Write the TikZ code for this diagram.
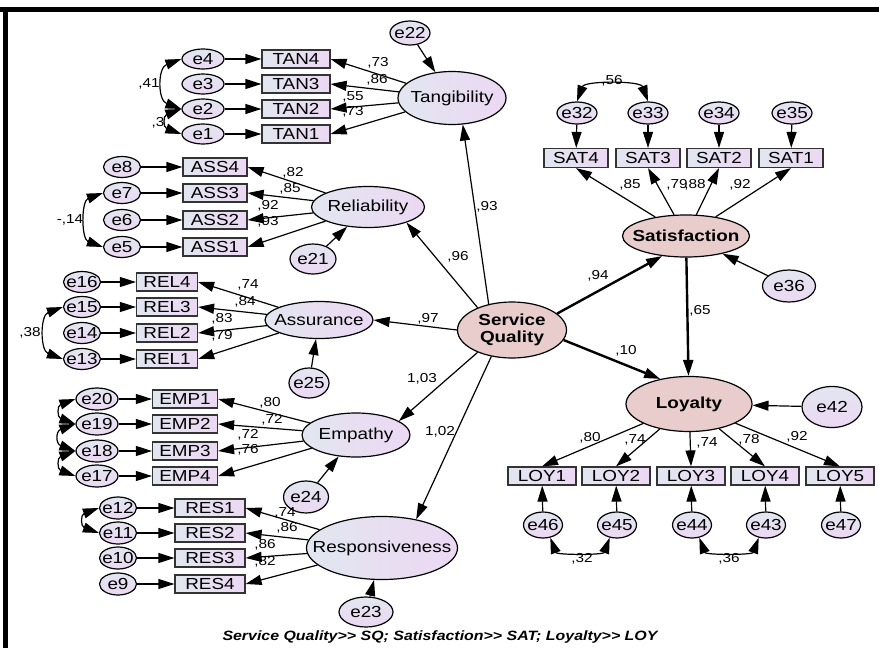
\documentclass[tikz,border=0pt]{standalone}
\usepackage{fontspec}
\setmainfont{Liberation Sans}[FakeStretch=1.18]
\usetikzlibrary{arrows.meta,shapes.geometric}
\definecolor{semblue}{RGB}{226,230,240}
\definecolor{semlilac}{RGB}{236,216,243}
\definecolor{sempink}{RGB}{232,205,204}
\tikzset{
  semnode/.style = {inner sep=0pt, draw=black, line width=1.2pt},
  semfont/.style = {font=\fontsize{16}{18}\selectfont},
  lat/.style = {semnode, ellipse, left color=semblue, right color=semlilac,
    label={[semfont]center:#1}},% facteur
  latm/.style = {semnode, ellipse, fill=sempink,
    label={[align=center, font=\fontsize{16}{17}\selectfont\bfseries]center:#1}},% facteur principal
  obs/.style = {semnode, semfont, rectangle, draw=black!80, left color=semblue,
    right color=semlilac, minimum width=66pt, minimum height=18pt},% item
  err/.style = {semnode, ellipse, top color=semblue, bottom color=semlilac,
    minimum width=40pt, minimum height=21pt, label={[semfont]center:#1}},% erreur
  coef/.style = {font=\fontsize{13}{15}\selectfont, inner sep=0pt}% estimation
}

\begin{document}
\begin{tikzpicture}[x=1pt,y=1pt,->,>={Triangle[length=16pt,width=10pt]},
  line width=1.2pt]
\useasboundingbox (0,0) rectangle (879,-648);
\draw[-,line width=5pt] (0,-9) -- (879,-9);
\draw[-,line width=5pt] (5.5,-6.5) -- (5.5,-648);
% facteurs
\node[latm={Service\\Quality}, minimum width=109pt, minimum height=56pt] (sq) at (512,-330) {};
\node[lat=Tangibility, minimum width=108pt, minimum height=53pt] (tang) at (452,-98) {};
\node[lat=Reliability, minimum width=113pt, minimum height=41pt] (reli) at (368,-207) {};
\node[lat=Assurance, minimum width=108pt, minimum height=37pt] (assu) at (319,-320) {};
\node[lat=Empathy, minimum width=108pt, minimum height=44pt] (empa) at (356,-435) {};
\node[lat=Responsiveness, minimum width=151pt, minimum height=63pt] (resp) at (382,-548) {};
\node[latm=Satisfaction, minimum width=127pt, minimum height=42pt] (sat) at (686,-236) {};
\node[latm=Loyalty, minimum width=126pt, minimum height=55pt] (loy) at (689,-404) {};
% erreurs des facteurs
\node[err=e22, minimum width=40pt, minimum height=24pt] (e22) at (410,-33) {};
\node[err=e21, minimum width=46pt, minimum height=30pt] (e21) at (313,-259) {};
\node[err=e25, minimum width=40pt, minimum height=30pt] (e25) at (309,-383) {};
\node[err=e24, minimum width=45pt, minimum height=32pt] (e24) at (306,-497) {};
\node[err=e23, minimum width=54pt, minimum height=30pt] (e23) at (366,-612) {};
\node[err=e36, minimum width=53pt, minimum height=32pt] (e36) at (789,-286) {};
\node[err=e42, minimum width=60pt, minimum height=41pt] (e42) at (832,-407) {};
% Tangibility
\node[obs, minimum width=68pt] (tan4) at (296,-59) {TAN4};
\node[obs, minimum width=68pt] (tan3) at (296,-84) {TAN3};
\node[obs, minimum width=68pt] (tan2) at (296,-109) {TAN2};
\node[obs, minimum width=68pt] (tan1) at (296,-134) {TAN1};
\node[err=e4, minimum width=42pt, minimum height=20pt] (e4) at (203,-59) {};
\node[err=e3, minimum width=42pt, minimum height=20pt] (e3) at (203,-84) {};
\node[err=e2, minimum width=42pt, minimum height=20pt] (e2) at (203,-109) {};
\node[err=e1, minimum width=42pt, minimum height=20pt] (e1) at (203,-134) {};
% Reliability
\node[obs, minimum width=64pt] (ass4) at (215,-167) {ASS4};
\node[obs, minimum width=64pt] (ass3) at (215,-193) {ASS3};
\node[obs, minimum width=64pt] (ass2) at (215,-220) {ASS2};
\node[obs, minimum width=64pt] (ass1) at (215,-247) {ASS1};
\node[err=e8, minimum width=37pt] (e8) at (122,-167) {};
\node[err=e7, minimum width=37pt] (e7) at (122,-193) {};
\node[err=e6, minimum width=37pt] (e6) at (122,-220) {};
\node[err=e5, minimum width=37pt] (e5) at (122,-247) {};
% Assurance
\node[obs, minimum width=61pt] (rel4) at (167,-282) {REL4};
\node[obs, minimum width=61pt] (rel3) at (167,-307) {REL3};
\node[obs, minimum width=61pt] (rel2) at (167,-333) {REL2};
\node[obs, minimum width=61pt] (rel1) at (167,-359) {REL1};
\node[err=e16, minimum width=37pt] (e16) at (82,-282) {};
\node[err=e15, minimum width=37pt] (e15) at (82,-307) {};
\node[err=e14, minimum width=37pt] (e14) at (82,-333) {};
\node[err=e13, minimum width=37pt] (e13) at (82,-359) {};
% Empathy
\node[obs, minimum width=65pt] (emp1) at (185,-399) {EMP1};
\node[obs, minimum width=65pt] (emp2) at (185,-424) {EMP2};
\node[obs, minimum width=65pt] (emp3) at (185,-451) {EMP3};
\node[obs, minimum width=65pt] (emp4) at (185,-476) {EMP4};
\node[err=e20, minimum width=42pt, minimum height=22pt] (e20) at (97,-399) {};
\node[err=e19, minimum width=42pt, minimum height=22pt] (e19) at (97,-424) {};
\node[err=e18, minimum width=42pt, minimum height=22pt] (e18) at (97,-451) {};
\node[err=e17, minimum width=42pt, minimum height=22pt] (e17) at (97,-476) {};
% Responsiveness
\node[obs, minimum width=70pt] (res1) at (210,-508) {RES1};
\node[obs, minimum width=70pt] (res2) at (210,-533) {RES2};
\node[obs, minimum width=70pt] (res3) at (210,-558) {RES3};
\node[obs, minimum width=70pt] (res4) at (210,-584) {RES4};
\node[err=e12, minimum width=37pt, minimum height=22pt] (e12) at (118,-508) {};
\node[err=e11, minimum width=37pt, minimum height=22pt] (e11) at (118,-533) {};
\node[err=e10, minimum width=37pt, minimum height=22pt] (e10) at (118,-558) {};
\node[err=e9, minimum width=37pt, minimum height=22pt] (e9) at (118,-584) {};
% Satisfaction
\node[obs, minimum width=64pt, minimum height=19pt] (sat4) at (576,-158) {SAT4};
\node[obs, minimum width=64pt, minimum height=19pt] (sat3) at (648,-158) {SAT3};
\node[obs, minimum width=64pt, minimum height=19pt] (sat2) at (719,-158) {SAT2};
\node[obs, minimum width=64pt, minimum height=19pt] (sat1) at (791,-158) {SAT1};
\node[err=e32, minimum height=22pt] (e32) at (577,-113) {};
\node[err=e33, minimum height=22pt] (e33) at (648,-113) {};
\node[err=e34, minimum height=22pt] (e34) at (719,-113) {};
\node[err=e35, minimum height=22pt] (e35) at (792,-113) {};
% Loyalty
\node[obs, minimum width=68pt] (loy1) at (542,-476) {LOY1};
\node[obs, minimum width=68pt] (loy2) at (616,-476) {LOY2};
\node[obs, minimum width=68pt] (loy3) at (691,-476) {LOY3};
\node[obs, minimum width=68pt] (loy4) at (765,-476) {LOY4};
\node[obs, minimum width=68pt] (loy5) at (840,-476) {LOY5};
\node[err=e46, minimum width=39pt, minimum height=26pt] (e46) at (543,-525) {};
\node[err=e45, minimum width=39pt, minimum height=26pt] (e45) at (617,-525) {};
\node[err=e44, minimum width=39pt, minimum height=26pt] (e44) at (692,-525) {};
\node[err=e43, minimum width=39pt, minimum height=26pt] (e43) at (766,-525) {};
\node[err=e47, minimum width=39pt, minimum height=26pt] (e47) at (841,-525) {};

% chemins structurels
\draw (sq.132) -- (tang.292);
\draw (sq.147) -- (reli.338);
\draw (sq.west) -- (assu.east);
\draw (sq.213) -- (empa.18);
\draw (sq.232) -- (resp.40);
\draw[line width=2.4pt] (sq.20) -- (sat.220);
\draw[line width=2.4pt] (sq.349) -- (loy.139);
\draw[line width=2.4pt] (sat) -- (loy);
\draw (e22) -- (tang);
\draw (e21) -- (reli);
\draw (e25) -- (assu);
\draw (e24) -- (empa);
\draw (e23) -- (resp);
\draw (e36) -- (sat);
\draw (e42) -- (loy);

% saturations
\draw (tang) -- (tan4.east);
\draw (tang) -- (tan3.east);
\draw (tang) -- (tan2.east);
\draw (tang) -- (tan1.east);
\draw (reli) -- (ass4.east);
\draw (reli) -- (ass3.east);
\draw (reli) -- (ass2.east);
\draw (reli) -- (ass1.east);
\draw (assu) -- (rel4.east);
\draw (assu) -- (rel3.east);
\draw (assu) -- (rel2.east);
\draw (assu) -- (rel1.east);
\draw (empa) -- (emp1.east);
\draw (empa) -- (emp2.east);
\draw (empa) -- (emp3.east);
\draw (empa) -- (emp4.east);
\draw (resp) -- (res1.east);
\draw (resp) -- (res2.east);
\draw (resp) -- (res3.east);
\draw (resp) -- (res4.east);
\draw (sat) -- (sat4.south);
\draw (sat) -- (sat3.south);
\draw (sat) -- (sat2.south);
\draw (sat) -- (sat1.south);
\draw (loy) -- (loy1.north);
\draw (loy) -- (loy2.north);
\draw (loy) -- (loy3.north);
\draw (loy) -- (loy4.north);
\draw (loy) -- (loy5.north);

% erreurs des items
\draw (e4) -- (tan4);
\draw (e3) -- (tan3);
\draw (e2) -- (tan2);
\draw (e1) -- (tan1);
\draw (e8) -- (ass4);
\draw (e7) -- (ass3);
\draw (e6) -- (ass2);
\draw (e5) -- (ass1);
\draw (e16) -- (rel4);
\draw (e15) -- (rel3);
\draw (e14) -- (rel2);
\draw (e13) -- (rel1);
\draw (e20) -- (emp1);
\draw (e19) -- (emp2);
\draw (e18) -- (emp3);
\draw (e17) -- (emp4);
\draw (e12) -- (res1);
\draw (e11) -- (res2);
\draw (e10) -- (res3);
\draw (e9) -- (res4);
\draw (e32) -- (sat4);
\draw (e33) -- (sat3);
\draw (e34) -- (sat2);
\draw (e35) -- (sat1);
\draw (e46) -- (loy1);
\draw (e45) -- (loy2);
\draw (e44) -- (loy3);
\draw (e43) -- (loy4);
\draw (e47) -- (loy5);

% covariances
\draw[<->] (e4.west) to[out=200,in=160,looseness=1.3] (e2.west);
\draw[<->] (e2.west) to[out=200,in=160,looseness=2] (e1.west);
\draw[<->] (e7.west) to[out=200,in=160,looseness=1.1] (e5.west);
\draw[<->] (e15.west) to[out=200,in=160,looseness=1.2] (e13.west);
\draw[<->] (e20.west) to[out=200,in=160,looseness=2] (e19.west);
\draw[<->] (e19.west) to[out=200,in=160,looseness=2] (e18.west);
\draw[<->] (e18.west) to[out=200,in=160,looseness=2] (e17.west);
\draw[<->] (e12.west) to[out=200,in=160,looseness=2] (e11.west);
\draw[<->] (e32.north) to[out=70,in=110,looseness=0.8] (e33.north);
\draw[<->] (e46.300) to[out=-70,in=-110,looseness=0.8] (e45.240);
\draw[<->] (e44.300) to[out=-70,in=-110,looseness=0.8] (e43.240);

% estimations
\node[coef] (ctan4) at (378,-63) {,73};
\node[coef] (ctan3) at (377,-80) {,86};
\node[coef] (ctan2) at (353,-97) {,55};
\node[coef] (ctan1) at (353,-112) {,73};
\node[coef] (c42) at (149,-84) {,41};
\node[coef] (c21) at (158,-123) {,3};
\node[coef] (cass4) at (293,-173) {,82};
\node[coef] (cass3) at (290,-189) {,85};
\node[coef] (cass2) at (268,-206) {,92};
\node[coef] (cass1) at (268,-222) {,93};
\node[coef] (c75) at (70,-220) {-,14};
\node[coef] (crel4) at (248,-285) {,74};
\node[coef] (crel3) at (245,-302) {,84};
\node[coef] (crel2) at (222,-319) {,83};
\node[coef] (crel1) at (222,-336) {,79};
\node[coef] (c1513) at (30,-333) {,38};
\node[coef] (cemp1) at (270,-403) {,80};
\node[coef] (cemp2) at (272,-420) {,72};
\node[coef] (cemp3) at (248,-435) {,72};
\node[coef] (cemp4) at (248,-450) {,76};
\node[coef] (cres1) at (285,-513) {,74};
\node[coef] (cres2) at (287,-528) {,86};
\node[coef] (cres3) at (265,-545) {,86};
\node[coef] (cres4) at (265,-562) {,82};
\node[coef] (ctang) at (487,-207) {,93};
\node[coef] (creli) at (458,-257) {,96};
\node[coef] (cassu) at (428,-319) {,97};
\node[coef] (cempa) at (422,-379) {1,03};
\node[coef] (cresp) at (440,-432) {1,02};
\node[coef] (csat) at (598,-276) {,94};
\node[coef] (cloy) at (626,-351) {,10};
\node[coef] (csatloy) at (700,-311) {,65};
\node[coef] (csat4) at (630,-185) {,85};
\node[coef] (csat3) at (677,-185) {,79};
\node[coef] (csat2) at (695,-185) {,88};
\node[coef] (csat1) at (740,-185) {,92};
\node[coef] (c3233) at (612,-81) {,56};
\node[coef] (cloy1) at (590,-438) {,80};
\node[coef] (cloy2) at (635,-440) {,74};
\node[coef] (cloy3) at (707,-443) {,74};
\node[coef] (cloy4) at (749,-440) {,78};
\node[coef] (cloy5) at (797,-437) {,92};
\node[coef] (c4645) at (582,-559) {,32};
\node[coef] (c4443) at (729,-559) {,36};
\node[font=\fontsize{13.5}{15}\selectfont\bfseries\itshape] (note) at (440,-637)
  {Service Quality>{}> SQ; Satisfaction>{}> SAT; Loyalty>{}> LOY};
\end{tikzpicture}
\end{document}
